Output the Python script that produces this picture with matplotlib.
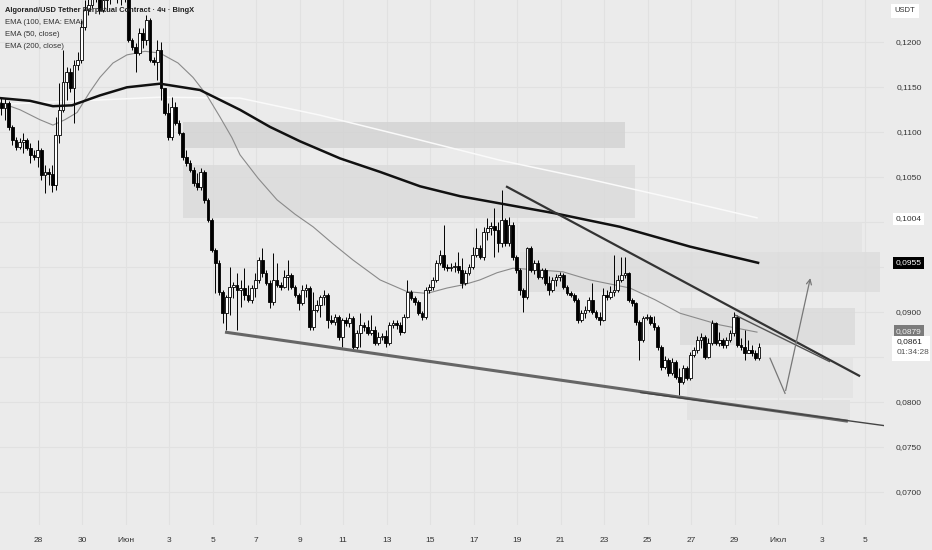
import numpy as np
import pandas as pd
import matplotlib
matplotlib.use('Agg')
import matplotlib.pyplot as plt
from matplotlib.patches import Rectangle

plt.rcParams['font.family'] = ['Liberation Sans', 'DejaVu Sans']

# ALGO/USDT perp, 4h candles (exchange local time), open = previous close
first_open = 0.1133
closes = [
    0.1127, 0.1133, 0.1106, 0.1091, 0.1084, 0.1089, 0.1091, 0.1083, 0.1075, 0.1073,
    0.1080, 0.1053, 0.1056, 0.1054, 0.1041, 0.1097, 0.1125, 0.1156, 0.1167, 0.1149,
    0.1175, 0.1180, 0.1217, 0.1236, 0.1241, 0.1253, 0.1258, 0.1236, 0.1247, 0.1254,
    0.1256, 0.1260, 0.1250, 0.1254, 0.1256, 0.1203, 0.1195, 0.1188, 0.1210, 0.1203,
    0.1225, 0.1180, 0.1178, 0.1191, 0.1149, 0.1122, 0.1095, 0.1128, 0.1110, 0.1099,
    0.1073, 0.1066, 0.1058, 0.1044, 0.1039, 0.1056, 0.1025, 0.1003, 0.0969, 0.0955,
    0.0923, 0.0899, 0.0917, 0.0928, 0.0930, 0.0925, 0.0927, 0.0919, 0.0914, 0.0927,
    0.0936, 0.0958, 0.0944, 0.0933, 0.0911, 0.0936, 0.0930, 0.0928, 0.0939, 0.0941,
    0.0928, 0.0919, 0.0910, 0.0925, 0.0927, 0.0884, 0.0903, 0.0908, 0.0917, 0.0919,
    0.0891, 0.0889, 0.0895, 0.0873, 0.0891, 0.0888, 0.0894, 0.0861, 0.0877, 0.0886,
    0.0884, 0.0877, 0.0880, 0.0866, 0.0873, 0.0874, 0.0866, 0.0886, 0.0888, 0.0886,
    0.0878, 0.0895, 0.0923, 0.0916, 0.0911, 0.0899, 0.0895, 0.0925, 0.0928, 0.0936,
    0.0955, 0.0964, 0.0950, 0.0949, 0.0950, 0.0951, 0.0947, 0.0933, 0.0944, 0.0950,
    0.0964, 0.0971, 0.0961, 0.0989, 0.0994, 0.0996, 0.0991, 0.0977, 0.1003, 0.0977,
    0.0997, 0.0961, 0.0947, 0.0925, 0.0917, 0.0971, 0.0947, 0.0955, 0.0939, 0.0947,
    0.0933, 0.0925, 0.0936, 0.0939, 0.0941, 0.0928, 0.0921, 0.0919, 0.0914, 0.0891,
    0.0899, 0.0903, 0.0914, 0.0900, 0.0895, 0.0891, 0.0919, 0.0917, 0.0923, 0.0925,
    0.0936, 0.0941, 0.0944, 0.0914, 0.0910, 0.0889, 0.0869, 0.0894, 0.0895, 0.0888,
    0.0884, 0.0861, 0.0839, 0.0847, 0.0833, 0.0845, 0.0828, 0.0823, 0.0838, 0.0827,
    0.0853, 0.0858, 0.0869, 0.0873, 0.0850, 0.0866, 0.0888, 0.0866, 0.0869, 0.0864,
    0.0869, 0.0877, 0.0895, 0.0864, 0.0861, 0.0855, 0.0858, 0.0855, 0.0849, 0.0861,
]
highs = [
    0.1138, 0.1138, 0.1135, 0.1108, 0.1095, 0.1094, 0.1099, 0.1094, 0.1088, 0.1080,
    0.1091, 0.1083, 0.1064, 0.1060, 0.1064, 0.1117, 0.1155, 0.1191, 0.1173, 0.1171,
    0.1180, 0.1189, 0.1225, 0.1247, 0.1269, 0.1275, 0.1278, 0.1264, 0.1258, 0.1260,
    0.1267, 0.1275, 0.1264, 0.1263, 0.1267, 0.1258, 0.1205, 0.1199, 0.1216, 0.1216,
    0.1230, 0.1227, 0.1184, 0.1203, 0.1200, 0.1149, 0.1133, 0.1139, 0.1134, 0.1114,
    0.1100, 0.1080, 0.1069, 0.1062, 0.1055, 0.1060, 0.1058, 0.1027, 0.1005, 0.0971,
    0.0958, 0.0925, 0.0919, 0.0950, 0.0934, 0.0944, 0.0936, 0.0949, 0.0930, 0.0930,
    0.0944, 0.0961, 0.0971, 0.0947, 0.0936, 0.0966, 0.0955, 0.0934, 0.0947, 0.0958,
    0.0944, 0.0930, 0.0921, 0.0930, 0.0931, 0.0929, 0.0923, 0.0914, 0.0919, 0.0925,
    0.0921, 0.0897, 0.0898, 0.0897, 0.0894, 0.0895, 0.0899, 0.0896, 0.0880, 0.0899,
    0.0889, 0.0891, 0.0897, 0.0885, 0.0878, 0.0877, 0.0880, 0.0889, 0.0891, 0.0891,
    0.0889, 0.0898, 0.0936, 0.0925, 0.0918, 0.0914, 0.0901, 0.0928, 0.0931, 0.0939,
    0.0958, 0.0969, 0.0997, 0.0954, 0.0955, 0.0956, 0.0967, 0.0960, 0.0947, 0.0954,
    0.0973, 0.0994, 0.0975, 0.0995, 0.1005, 0.1000, 0.1016, 0.1000, 0.1036, 0.1005,
    0.1006, 0.1000, 0.0964, 0.0949, 0.0927, 0.0973, 0.0974, 0.0958, 0.0958, 0.0949,
    0.0949, 0.0940, 0.0939, 0.0943, 0.0945, 0.0944, 0.0930, 0.0924, 0.0921, 0.0916,
    0.0903, 0.0907, 0.0917, 0.0933, 0.0903, 0.0900, 0.0927, 0.0925, 0.0929, 0.0964,
    0.0941, 0.0961, 0.0961, 0.0945, 0.0916, 0.0911, 0.0891, 0.0896, 0.0898, 0.0897,
    0.0896, 0.0886, 0.0864, 0.0851, 0.0849, 0.0849, 0.0847, 0.0838, 0.0841, 0.0840,
    0.0856, 0.0861, 0.0874, 0.0877, 0.0875, 0.0871, 0.0891, 0.0889, 0.0878, 0.0871,
    0.0873, 0.0880, 0.0900, 0.0897, 0.0871, 0.0880, 0.0869, 0.0864, 0.0858, 0.0866,
]
lows = [
    0.1119, 0.1114, 0.1103, 0.1086, 0.1080, 0.1081, 0.1077, 0.1080, 0.1066, 0.1069,
    0.1062, 0.1047, 0.1033, 0.1041, 0.1034, 0.1036, 0.1088, 0.1123, 0.1136, 0.1145,
    0.1110, 0.1169, 0.1177, 0.1214, 0.1230, 0.1238, 0.1245, 0.1231, 0.1234, 0.1236,
    0.1243, 0.1249, 0.1244, 0.1241, 0.1245, 0.1200, 0.1191, 0.1167, 0.1186, 0.1194,
    0.1197, 0.1178, 0.1175, 0.1158, 0.1136, 0.1119, 0.1091, 0.1091, 0.1108, 0.1097,
    0.1069, 0.1063, 0.1056, 0.1040, 0.1036, 0.1036, 0.1021, 0.1000, 0.0967, 0.0921,
    0.0919, 0.0888, 0.0880, 0.0897, 0.0916, 0.0880, 0.0906, 0.0914, 0.0911, 0.0910,
    0.0917, 0.0933, 0.0939, 0.0930, 0.0905, 0.0908, 0.0928, 0.0925, 0.0927, 0.0925,
    0.0926, 0.0917, 0.0903, 0.0908, 0.0917, 0.0880, 0.0880, 0.0900, 0.0895, 0.0908,
    0.0883, 0.0887, 0.0886, 0.0869, 0.0861, 0.0885, 0.0884, 0.0859, 0.0859, 0.0861,
    0.0879, 0.0875, 0.0875, 0.0864, 0.0864, 0.0869, 0.0861, 0.0864, 0.0883, 0.0882,
    0.0875, 0.0877, 0.0894, 0.0914, 0.0908, 0.0897, 0.0891, 0.0893, 0.0921, 0.0925,
    0.0934, 0.0953, 0.0947, 0.0946, 0.0946, 0.0945, 0.0944, 0.0927, 0.0930, 0.0941,
    0.0948, 0.0961, 0.0959, 0.0958, 0.0980, 0.0986, 0.0961, 0.0967, 0.0973, 0.0974,
    0.0974, 0.0958, 0.0944, 0.0919, 0.0900, 0.0915, 0.0945, 0.0943, 0.0937, 0.0937,
    0.0930, 0.0919, 0.0923, 0.0929, 0.0935, 0.0926, 0.0919, 0.0917, 0.0911, 0.0888,
    0.0889, 0.0894, 0.0900, 0.0898, 0.0893, 0.0886, 0.0890, 0.0914, 0.0915, 0.0918,
    0.0923, 0.0934, 0.0938, 0.0911, 0.0907, 0.0886, 0.0847, 0.0867, 0.0891, 0.0886,
    0.0880, 0.0858, 0.0836, 0.0837, 0.0829, 0.0830, 0.0826, 0.0808, 0.0820, 0.0825,
    0.0825, 0.0850, 0.0855, 0.0860, 0.0848, 0.0849, 0.0864, 0.0864, 0.0863, 0.0860,
    0.0860, 0.0867, 0.0874, 0.0861, 0.0858, 0.0847, 0.0855, 0.0851, 0.0847, 0.0847,
]

# EMA curves (days from 1 June, price)
ema50_days = [-5.77, -4.85, -3.94, -3.34, -2.79, -2.23, -1.64, -1.18, -0.58, 0.06,
              0.89, 1.58, 2.41, 3.10, 3.74, 4.34, 4.89, 5.26, 6.09, 6.96,
              7.79, 8.62, 9.54, 10.46, 11.70, 12.94, 13.86, 14.78, 15.60, 16.29,
              17.08, 17.81, 19.05, 20.11, 21.35, 23.19, 24.34, 25.49, 27.33, 29.03]
ema50_vals = [0.1133, 0.1125, 0.1114, 0.1108, 0.1114, 0.1122, 0.1145, 0.1161, 0.1177, 0.1186,
              0.1190, 0.1188, 0.1177, 0.1161, 0.1141, 0.1117, 0.1094, 0.1075, 0.1049, 0.1025,
              0.1009, 0.0995, 0.0976, 0.0958, 0.0936, 0.0923, 0.0921, 0.0927, 0.0931, 0.0936,
              0.0944, 0.0949, 0.0947, 0.0945, 0.0936, 0.0927, 0.0914, 0.0899, 0.0886, 0.0878]

ema200_days = [-5.77, -4.40, -3.34, -2.46, -1.18, 0.06, 1.58, 3.42, 5.26, 6.64,
               8.02, 9.86, 11.70, 13.54, 15.38, 17.21, 19.74, 22.73, 25.95, 29.08]
ema200_vals = [0.1138, 0.1135, 0.1129, 0.1130, 0.1141, 0.1150, 0.1154, 0.1147, 0.1125, 0.1106,
               0.1090, 0.1071, 0.1056, 0.1040, 0.1029, 0.1021, 0.1010, 0.0995, 0.0973, 0.0955]

ema100_days = [-5.77, -2.10, 1.58, 5.26, 8.94, 12.62, 17.21, 21.49, 25.49, 29.03]
ema100_vals = [0.1131, 0.1135, 0.1139, 0.1138, 0.1119, 0.1097, 0.1069, 0.1047, 0.1025, 0.1005]

# drawn zones: (day from, day to, price low, price high, grey level)
zones = [
    (2.64, 22.96, 0.1083, 0.1111, '#d4d4d4'),
    (2.64, 23.42, 0.1005, 0.1064, '#dbdbdb'),
    (18.13, 33.86, 0.0967, 0.1000, '#e3e3e3'),
    (18.13, 34.69, 0.0923, 0.0967, '#dddddd'),
    (25.49, 33.54, 0.0864, 0.0905, '#dbdbdb'),
    (25.81, 33.44, 0.0805, 0.0849, '#e3e3e3'),
    (25.81, 33.31, 0.0780, 0.0803, '#e1e1e1'),
]

# trend lines ((day, price), (day, price), width, colour)
trendlines = [
    ((17.49, 0.1040), (33.77, 0.0829), 1.6, '#333333'),
    ((28.02, 0.0897), (32.39, 0.0845), 1.0, '#555555'),
    ((4.57, 0.0878), (33.21, 0.0779), 2.2, '#666666'),
    ((23.65, 0.0811), (34.92, 0.0774), 1.0, '#444444'),
]
path_days = [29.63, 30.32, 31.51]
path_vals = [0.0849, 0.0810, 0.0941]

price_ticks = [0.0700, 0.0750, 0.0800, 0.0900, 0.1050, 0.1100, 0.1150, 0.1200]
grid_prices = [0.0700, 0.0750, 0.0800, 0.0850, 0.0900, 0.0950, 0.1000, 0.1050, 0.1100, 0.1150, 0.1200]
time_ticks = [-4, -2, 0, 2, 4, 6, 8, 10, 12, 14, 16, 18, 20, 22, 24, 26, 28, 30, 32, 34]
time_labels = ['28', '30', 'Июн', '3', '5', '7', '9', '11', '13', '15', '17', '19',
               '21', '23', '25', '27', '29', 'Июл', '3', '5']

bg = '#ebebeb'
fig = plt.figure(figsize=(9.32, 5.5), dpi=100, facecolor=bg)
ax = fig.add_axes([0, 25 / 550, 884 / 932, 525 / 550])
ax.set_facecolor(bg)
for s in ax.spines.values():
    s.set_visible(False)
ax.set_xlim(-5.775, 34.87)
ax.set_ylim(0.06637, 0.1247)
ax.set_xticks([])
ax.set_yticks([])

for t in time_ticks:
    ax.axvline(t, color='#e1e1e1', lw=0.8, zorder=0)
for p in grid_prices:
    ax.axhline(p, color='#e1e1e1', lw=0.8, zorder=0)

for d0, d1, lo, hi, c in zones:
    ax.add_patch(Rectangle((d0, lo), d1 - d0, hi - lo, facecolor=c, edgecolor='none',
                           alpha=0.85, zorder=1))

ax.plot(ema100_days, ema100_vals, color='#fafafa', lw=1.1, zorder=2)
ax.plot(ema50_days, ema50_vals, color='#8a8a8a', lw=0.8, zorder=2)

# candles
times = pd.date_range('2024-05-26 07:00', periods=len(closes), freq='4h')
x = ((times - pd.Timestamp('2024-06-01')) / pd.Timedelta(days=1)).values
c = np.array(closes)
o = np.concatenate([[first_open], c[:-1]])
h = np.array(highs)
l = np.array(lows)
top = np.maximum(o, c)
bot = np.minimum(o, c)
ax.vlines(x, np.minimum(l, bot), np.maximum(h, top), color='black', lw=0.7, zorder=3)
up = c >= o
body = np.maximum(top - bot, 0.00006)
ax.bar(x[up], body[up], bottom=bot[up], width=0.125, color='white', edgecolor='black',
       linewidth=0.6, zorder=4)
ax.bar(x[~up], body[~up], bottom=bot[~up], width=0.125, color='black', edgecolor='black',
       linewidth=0.6, zorder=4)

ax.plot(ema200_days, ema200_vals, color='#111111', lw=1.8, zorder=5)

for (d0, p0), (d1, p1), w, col in trendlines:
    ax.plot([d0, d1], [p0, p1], color=col, lw=w, zorder=6, solid_capstyle='butt')
ax.annotate('', xy=(path_days[2], path_vals[2]), xytext=(path_days[1], path_vals[1]),
            arrowprops=dict(arrowstyle='->', color='#777777', lw=0.9, mutation_scale=9),
            zorder=6)
ax.plot(path_days[:2], path_vals[:2], color='#777777', lw=0.9, zorder=6)

# legend texts
fig.text(5 / 932, 1 - 11 / 550, 'Algorand/USD Tether Perpetual Contract · 4ч · BingX',
         fontsize=5.4, fontweight='bold', color='#222222', va='center')
for k, s in enumerate(['EMA (100, EMA: EMA)', 'EMA (50, close)', 'EMA (200, close)']):
    fig.text(5 / 932, 1 - (23 + 12 * k) / 550, s, fontsize=5.6, color='#333333', va='center')

# price scale
ty = ax.get_yaxis_transform()
xl = 909 / 884
for p in price_ticks:
    ax.text(xl, p, f'{p:.4f}'.replace('.', ','), transform=ty, fontsize=6, color='#333333',
            ha='center', va='center', clip_on=False)
ax.text(xl, ema100_vals[-1] - 0.0001, '0,1004', transform=ty, fontsize=6, color='#333333',
        ha='center', va='center', clip_on=False,
        bbox=dict(boxstyle='square,pad=0.3', fc='white', ec='none'))
ax.text(xl, ema200_vals[-1], '0,0955', transform=ty, fontsize=6, color='white',
        ha='center', va='center', clip_on=False,
        bbox=dict(boxstyle='square,pad=0.3', fc='black', ec='none'))
ax.text(xl, ema50_vals[-1] + 0.0001, '0,0879', transform=ty, fontsize=6, color='#f0f0f0',
        ha='center', va='center', clip_on=False,
        bbox=dict(boxstyle='square,pad=0.3', fc='#7b7b7b', ec='none'))
# current price tag with countdown
fig.add_artist(Rectangle((892 / 932, 1 - 361 / 550), 38 / 932, 25 / 550,
                         transform=fig.transFigure, facecolor='white', edgecolor='none'))
fig.text(897 / 932, 1 - 342 / 550, '0,0861', fontsize=6, color='#222222', va='center')
fig.text(897 / 932, 1 - 353 / 550, '01:34:28', fontsize=6, color='#555555', va='center')
fig.text(905 / 932, 1 - 11 / 550, 'USDT', fontsize=5.5, color='#333333', ha='center',
         va='center', bbox=dict(boxstyle='square,pad=0.5', fc='white', ec='none'))

# time scale
tx = ax.get_xaxis_transform()
for t, s in zip(time_ticks, time_labels):
    ax.text(t, -15 / 525, s, transform=tx, fontsize=6, color='#333333', ha='center',
            va='center', clip_on=False)

fig.savefig('out.png', dpi=100, facecolor=bg)
